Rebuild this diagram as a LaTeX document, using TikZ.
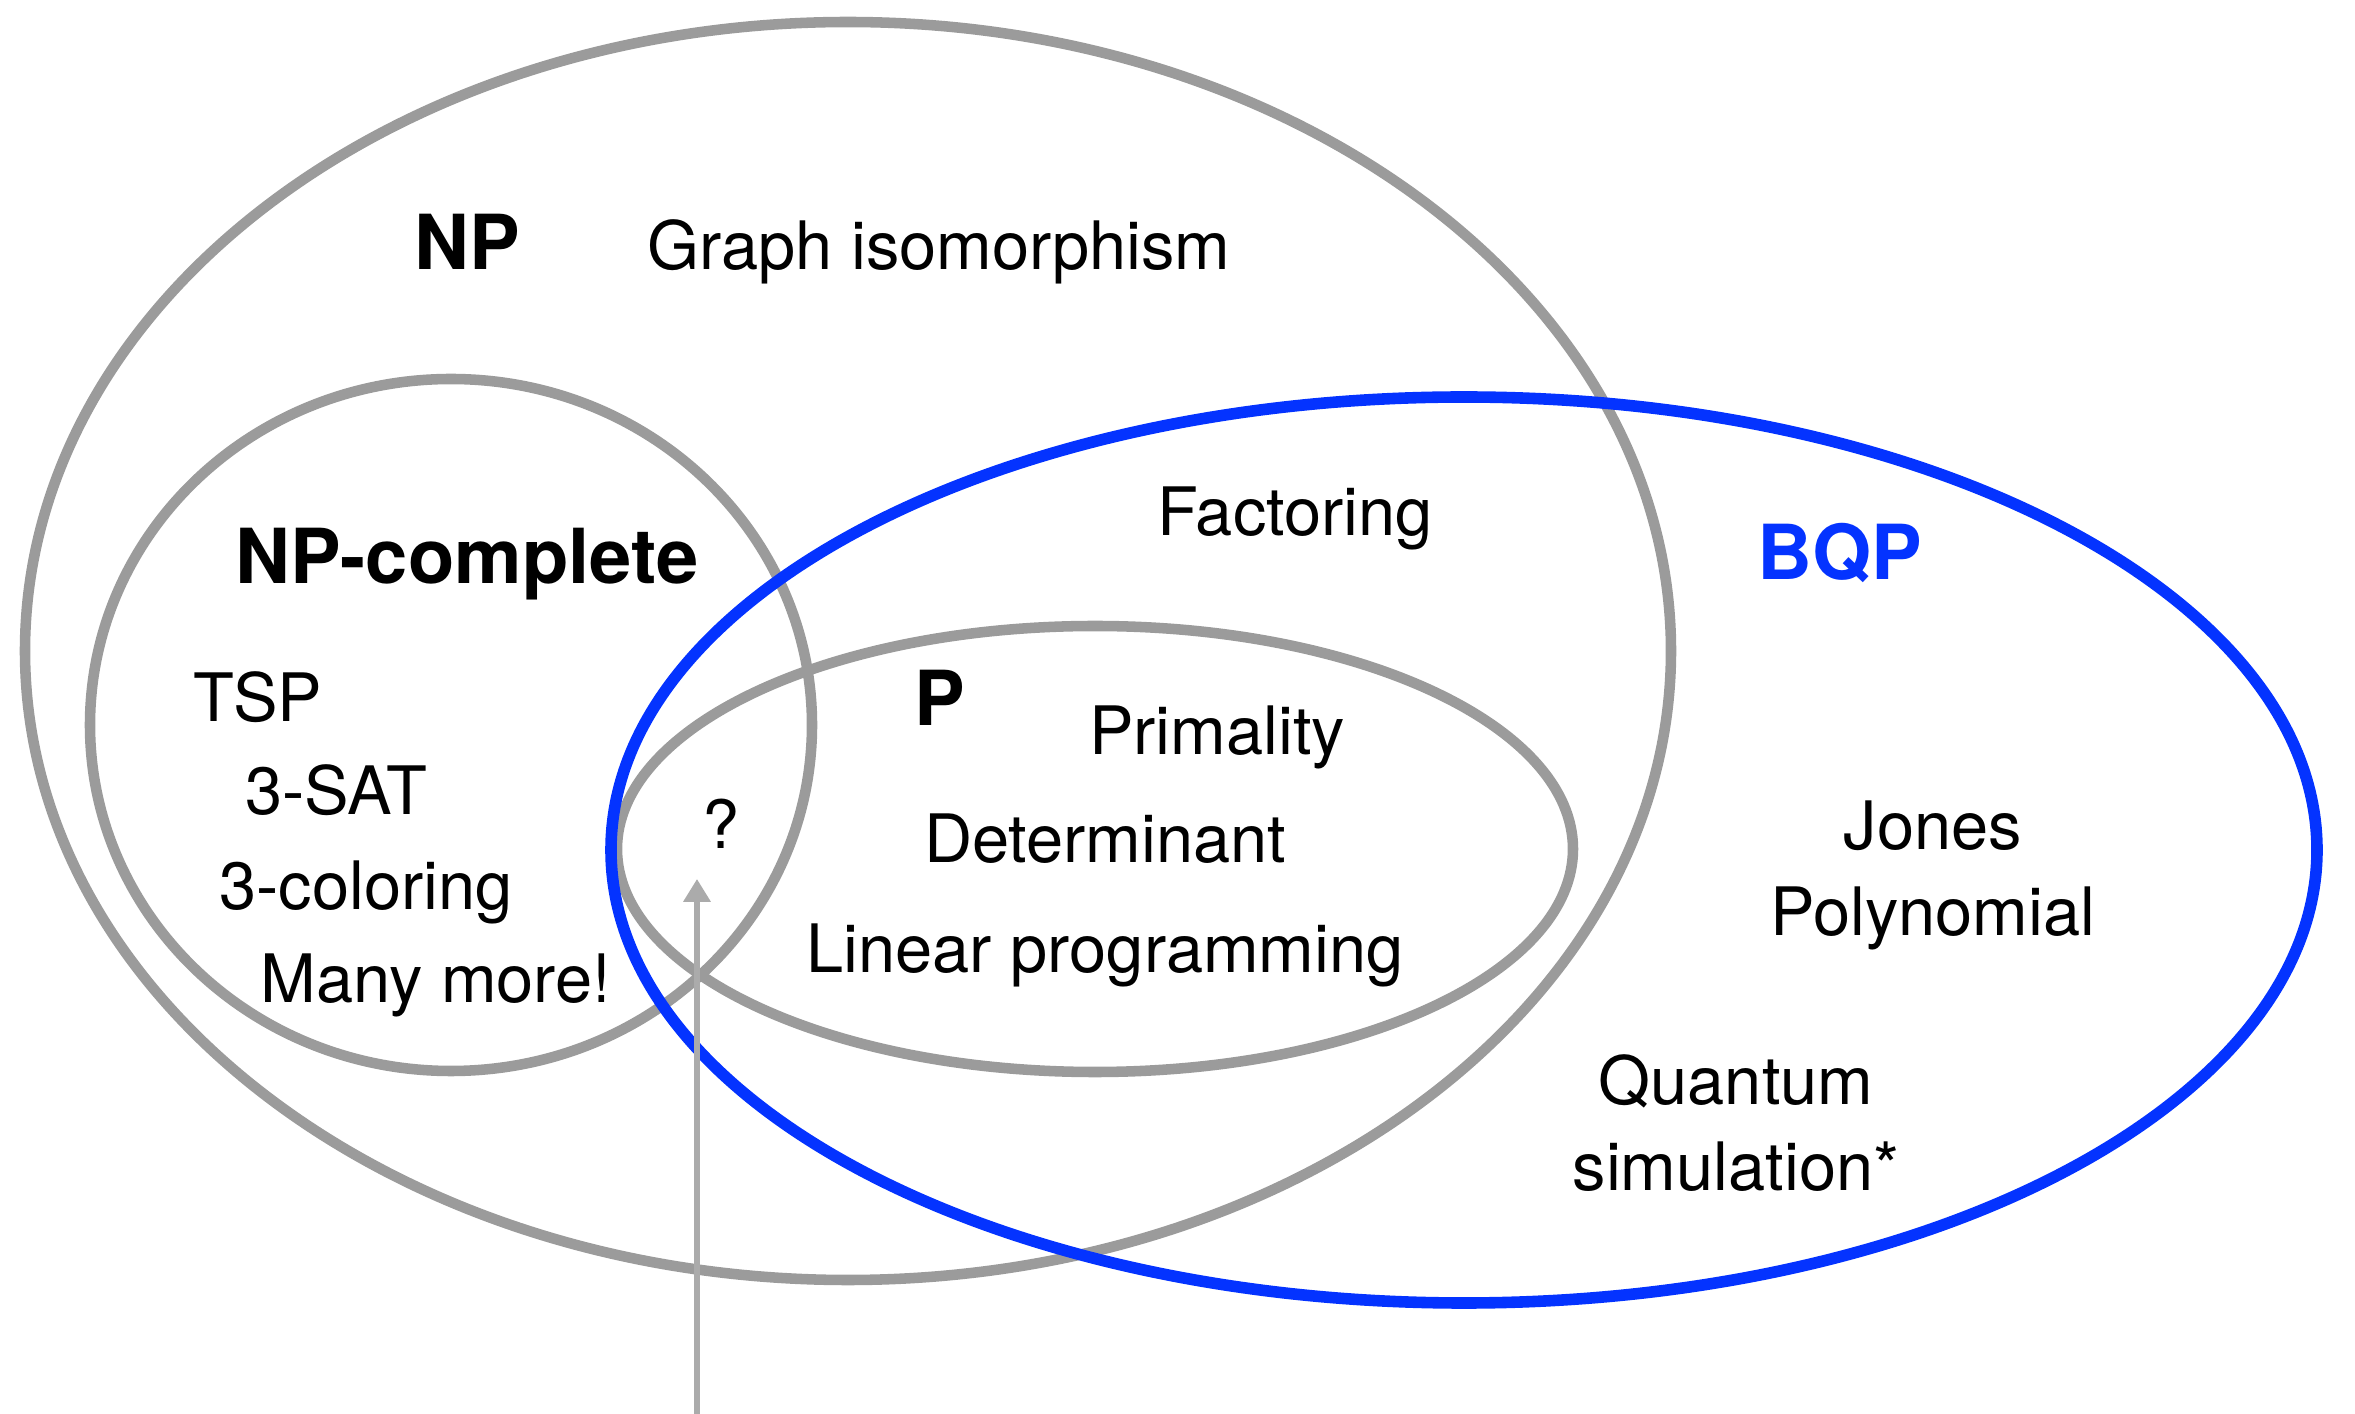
\documentclass[tikz,border=0pt]{standalone}
\usepackage{fontspec}
\setmainfont{TeX Gyre Heros}
\usepackage{xcolor}
\usepackage{tikz}
\usetikzlibrary{arrows.meta}
\definecolor{setgray}{HTML}{9B9B9B}
\definecolor{arrowgray}{HTML}{ABABAB}
\definecolor{bqpblue}{HTML}{0433FF}

\begin{document}
\begin{tikzpicture}[x=0.1mm,y=-0.1mm,
  setline/.style={draw=setgray, line width=3pt},
  classname/.style={font=\fontsize{21.6}{25}\selectfont\bfseries, anchor=base},
  problem/.style={font=\fontsize{19}{24.5}\selectfont, anchor=base},
  twoline/.style={font=\fontsize{19}{24.5}\selectfont, align=center}]
\useasboundingbox (0,0) rectangle (2355,1414);
% Complexity classes
\draw[setline] (848,651) ellipse [x radius=823, y radius=629];   % NP
\draw[setline] (451,725) ellipse [x radius=361, y radius=346];   % NP-complete
\draw[setline] (1095,849) ellipse [x radius=478, y radius=223];  % P
\draw[draw=bqpblue, line width=3.3pt] (1464,850) ellipse [x radius=853, y radius=453]; % BQP
% Class labels
\node[classname] (np) at (467,270) {NP};
\node[classname] (npc) at (467,584) {NP-complete};
\node[classname] (p) at (940,726) {P};
\node[classname, text=bqpblue] (bqp) at (1840,580) {BQP};
% Problems
\node[problem] (gi) at (939,270) {Graph isomorphism};
\node[problem] (fact) at (1295,536) {Factoring};
\foreach \lab/\x/\y [count=\i] in {TSP/258/722, 3-SAT/336/815, 3-coloring/366/910, Many more!/436/1003} {
  \node[problem] (npc\i) at (\x,\y) {\lab};
}
\node[problem] (prim) at (1217,755) {Primality};
\node[problem] (det) at (1105,863) {Determinant};
\node[problem] (lp) at (1105,973) {Linear programming};
\node[twoline] (jones) at (1933,875) {Jones\\Polynomial};
\node[twoline] (quant) at (1736,1123) {Quantum\\simulation*};
% Open question
\node[problem] (q) at (721,849) {?};
\coordinate (qfoot) at (697,1414);
\coordinate (qtip) at (697,879);
\draw[draw=arrowgray, line width=1.5pt, -{Triangle[width=7.5pt,length=6.5pt]}] (qfoot) -- (qtip);
\end{tikzpicture}
\end{document}
